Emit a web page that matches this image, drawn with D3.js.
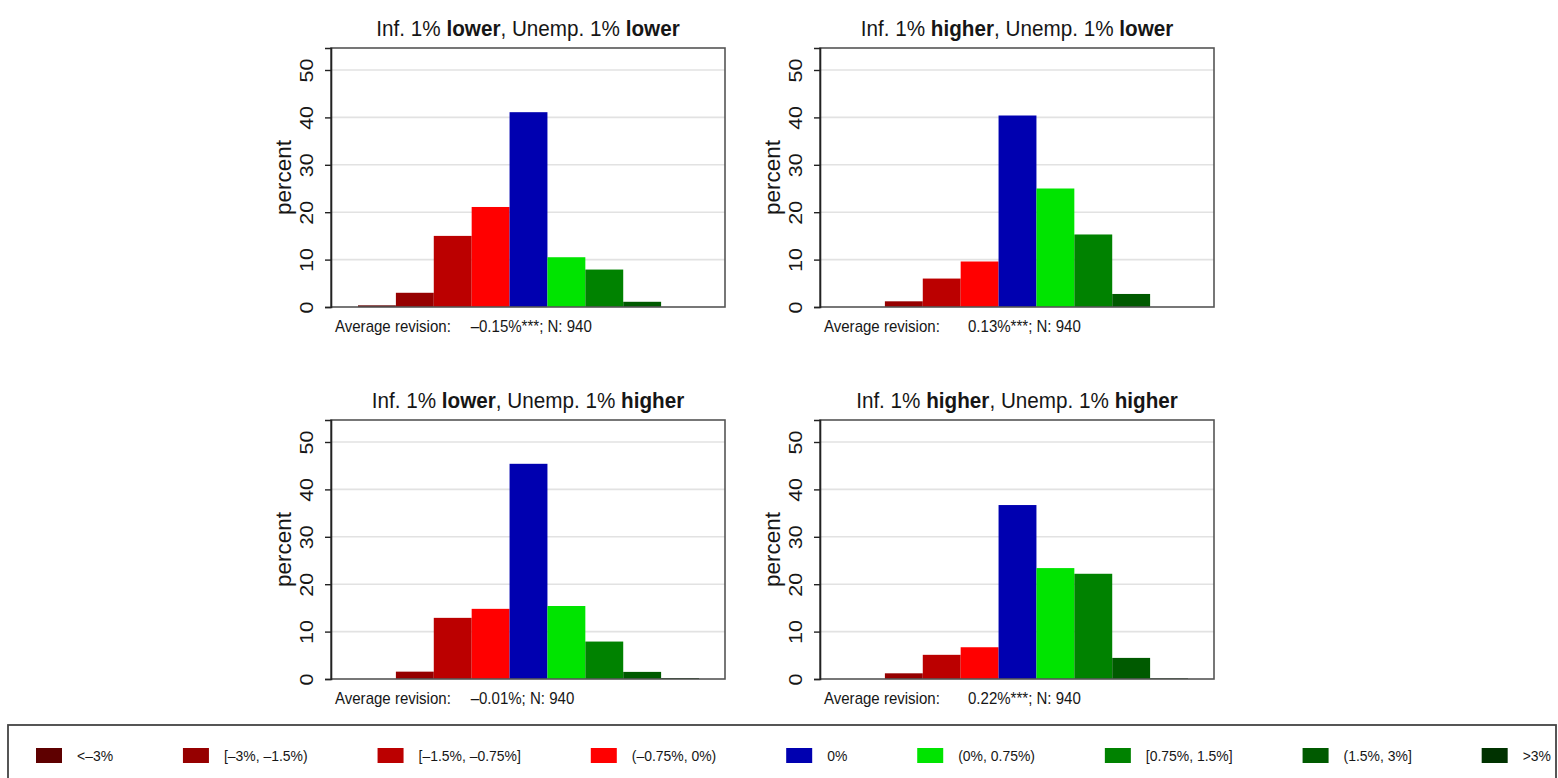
<!DOCTYPE html>
<html>
<head>
<meta charset="utf-8">
<script src="https://cdn.jsdelivr.net/npm/d3@7"></script>
<style>
  html, body { margin: 0; padding: 0; background: #fff; }
  svg { display: block; }
  text { font-family: "Liberation Sans", Arial, Helvetica, sans-serif; fill: #161616; }
</style>
</head>
<body>
<svg id="chart" width="1558" height="778"></svg>
<script>
// Revision categories (legend order, also bar order along x)
const categories = ["<\u20133%", "[\u20133%, \u20131.5%)", "[\u20131.5%, \u20130.75%]", "(\u20130.75%, 0%)", "0%", "(0%, 0.75%)", "[0.75%, 1.5%]", "(1.5%, 3%]", ">3%"];
const palette = ["#5e0000", "#960000", "#bb0000", "#ff0000", "#0000b0", "#00e400", "#008200", "#005a00", "#003200"];

// Scenario labels for each panel
const inflationShift = ["lower", "higher", "lower", "higher"];
const unemploymentShift = ["lower", "lower", "higher", "higher"];

// Share of respondents (percent) in each revision category
const infLowerUnempLower = [0.35, 3.0, 15.0, 21.1, 41.1, 10.5, 7.9, 1.1, 0];
const infHigherUnempLower = [0, 1.2, 6.0, 9.6, 40.4, 25.0, 15.3, 2.75, 0];
const infLowerUnempHigher = [0, 1.55, 12.9, 14.8, 45.4, 15.4, 7.9, 1.5, 0.2];
const infHigherUnempHigher = [0, 1.2, 5.1, 6.7, 36.7, 23.4, 22.2, 4.45, 0.15];

const averageRevision = ["\u20130.15%***", "0.13%***", "\u20130.01%", "0.22%***"];
const sampleSize = [940, 940, 940, 940];
const yTicks = [0, 10, 20, 30, 40, 50];

const panelValues = [infLowerUnempLower, infHigherUnempLower, infLowerUnempHigher, infHigherUnempHigher];

// slightly condensed lettering
const SX = 0.94;

const svg = d3.select("#chart");
svg.append("rect").attr("width", 1558).attr("height", 778).attr("fill", "#fff");

// Panel frames: column left edges, row top edges
const colX = [331, 820];
const rowY = [48, 420];
const frameW = 394, frameH = 259;
const barPadL = 27, barPadR = 26;

panelValues.forEach((vals, i) => {
  const left = colX[i % 2];
  const top = rowY[Math.floor(i / 2)];
  const bottom = top + frameH;
  const g = svg.append("g");

  const x = d3.scaleBand().domain(d3.range(categories.length))
    .range([left + barPadL, left + frameW - barPadR]).padding(0);
  const y = d3.scaleLinear().domain([0, 50 * frameH / 237]).range([bottom, top]);

  // gridlines
  g.selectAll("line.grid").data(yTicks.filter(t => t > 0)).join("line")
    .attr("x1", left).attr("x2", left + frameW)
    .attr("y1", d => y(d)).attr("y2", d => y(d))
    .attr("stroke", "#e2e2e2").attr("stroke-width", 1.6);

  // bars
  g.selectAll("rect.bar").data(vals).join("rect")
    .attr("x", (d, k) => x(k))
    .attr("width", x.bandwidth())
    .attr("y", d => y(d))
    .attr("height", d => y(0) - y(d))
    .attr("fill", (d, k) => palette[k]);

  // frame
  g.append("rect")
    .attr("x", left).attr("y", top).attr("width", frameW).attr("height", frameH)
    .attr("fill", "none").attr("stroke", "#555").attr("stroke-width", 1.6);

  // y axis
  const axis = d3.axisLeft(y).tickValues(yTicks).tickSize(6).tickFormat(d3.format("d"));
  const ax = g.append("g").attr("transform", `translate(${left},0)`).call(axis);
  ax.select(".domain").attr("stroke", "#222").attr("stroke-width", 1.6);
  ax.selectAll(".tick line").attr("stroke", "#222").attr("stroke-width", 1.4);
  ax.selectAll(".tick text")
    .attr("x", 0).attr("y", 0).attr("dy", null)
    .attr("transform", "translate(-18,0) scale(0.86,1) rotate(-90)")
    .attr("text-anchor", "middle")
    .style("font-size", "21.5px")
    .style("font-family", "'Liberation Sans', Arial, sans-serif")
    .attr("fill", "#161616");

  // y axis title
  g.append("text")
    .attr("transform", `translate(${left - 40},${(top + bottom) / 2}) scale(${SX},1) rotate(-90)`)
    .attr("text-anchor", "middle")
    .style("font-size", "22.5px")
    .text("percent");

  // panel title
  const title = g.append("text")
    .attr("transform", `translate(${left + frameW / 2},${top - 12}) scale(${SX},1)`)
    .attr("text-anchor", "middle")
    .style("font-size", "22px");
  title.append("tspan").text("Inf. 1% ");
  title.append("tspan").style("font-weight", "bold").text(inflationShift[i]);
  title.append("tspan").text(", Unemp. 1% ");
  title.append("tspan").style("font-weight", "bold").text(unemploymentShift[i]);

  // note under the panel
  g.append("text")
    .attr("transform", `translate(${left + 4},${bottom + 25}) scale(${SX},1)`)
    .style("font-size", "16px")
    .text("Average revision:");
  const rev = averageRevision[i];
  const negative = rev.startsWith("\u2013");
  if (negative) {
    g.append("text")
      .attr("transform", `translate(${left + 148},${bottom + 25}) scale(${SX},1)`)
      .attr("text-anchor", "end")
      .style("font-size", "16px")
      .text("\u2013");
  }
  g.append("text")
    .attr("transform", `translate(${left + 148},${bottom + 25}) scale(${SX},1)`)
    .style("font-size", "16px")
    .text((negative ? rev.slice(1) : rev) + "; N: " + sampleSize[i]);
});

// Legend
const LSX = 0.9;
const legend = svg.append("g");
legend.append("rect")
  .attr("x", 8).attr("y", 725).attr("width", 1548).attr("height", 80)
  .attr("fill", "none").attr("stroke", "#444").attr("stroke-width", 1.8);

const swW = 26, swH = 15, swGap = 15;
const labels = legend.selectAll("text.lab").data(categories).join("text")
  .attr("class", "lab")
  .style("font-size", "15.5px")
  .text(d => d);
const widths = [];
labels.each(function () { widths.push(this.getComputedTextLength() * LSX); });
// first swatch left edge and last label right edge; remaining space spread evenly
const n = categories.length;
const startX = 36;
const lastX = 1551 - widths[n - 1] - swW - swGap;
const used = (n - 1) * (swW + swGap) + d3.sum(widths.slice(0, n - 1));
const gap = (lastX - startX - used) / (n - 1);
let cx = startX;
const pos = [];
categories.forEach((c, k) => { pos.push(cx); cx += swW + swGap + widths[k] + gap; });

legend.selectAll("rect.sw").data(categories).join("rect")
  .attr("class", "sw")
  .attr("x", (d, k) => pos[k]).attr("y", 748)
  .attr("width", swW).attr("height", swH)
  .attr("fill", (d, k) => palette[k]);
labels.attr("transform", (d, k) => `translate(${pos[k] + swW + swGap},761) scale(${LSX},1)`);
</script>
</body>
</html>
